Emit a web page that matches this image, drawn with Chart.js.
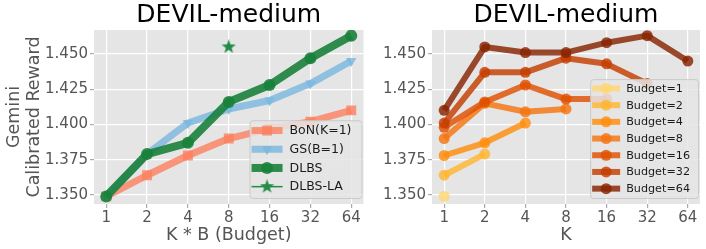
<!DOCTYPE html>
<html>
<head>
<meta charset="utf-8">
<script src="https://cdn.jsdelivr.net/npm/chart.js@4.4.1/dist/chart.umd.min.js"></script>
<style>
html, body { margin: 0; padding: 0; background: #fff; }
#wrap { position: relative; width: 706px; height: 249px; }
#leftBox { position: absolute; left: 0; top: 0; width: 372px; height: 249px; }
#rightBox { position: absolute; left: 372px; top: 0; width: 334px; height: 249px; }
</style>
</head>
<body>
<div id="wrap">
  <div id="leftBox"><canvas id="budgetChart" width="372" height="249"></canvas></div>
  <div id="rightBox"><canvas id="kChart" width="334" height="249"></canvas></div>
</div>
<script>
// x positions (log2 spaced) shared by both panels
const budgets = [1, 2, 4, 8, 16, 32, 64];
const yTicks = [1.350, 1.375, 1.400, 1.425, 1.450];

// left panel: reward vs total budget
const bonValues = [1.349, 1.364, 1.378, 1.390, 1.397, 1.402, 1.410];
const gsValues = [1.349, 1.379, 1.401, 1.411, 1.417, 1.429, 1.445];
const dlbsValues = [1.349, 1.379, 1.387, 1.416, 1.428, 1.447, 1.463];
const dlbsLaBudget = [8];
const dlbsLaValues = [1.455];

// right panel: reward vs K, one line per budget (K runs 1..budget)
const kValues = [1, 2, 4, 8, 16, 32, 64];
const budgetLabels = ['Budget=1', 'Budget=2', 'Budget=4', 'Budget=8', 'Budget=16', 'Budget=32', 'Budget=64'];
const budget1 = [1.349];
const budget2 = [1.364, 1.379];
const budget4 = [1.378, 1.387, 1.401];
const budget8 = [1.390, 1.415, 1.409, 1.411];
const budget16 = [1.398, 1.416, 1.428, 1.418, 1.418];
const budget32 = [1.401, 1.437, 1.437, 1.447, 1.443, 1.429];
const budget64 = [1.410, 1.455, 1.451, 1.451, 1.458, 1.463, 1.445];
const budgetSeries = [budget1, budget2, budget4, budget8, budget16, budget32, budget64];
const budgetColors = ['#FFD674', '#FFB632', '#FF8D0E', '#F47410', '#DF5000', '#C43D00', '#872300'];

Chart.defaults.font.family = "'DejaVu Sans', sans-serif";
Chart.defaults.color = '#555555';

// filled five point star used as the DLBS-LA marker
function makeStar(size, color) {
    const c = document.createElement('canvas');
    c.width = size; c.height = size;
    const g = c.getContext('2d');
    const cx = size / 2, cy = size / 2, outer = size / 2, inner = outer * 0.4;
    g.beginPath();
    for (let i = 0; i < 10; i++) {
        const r = i % 2 === 0 ? outer : inner;
        const a = -Math.PI / 2 + i * Math.PI / 5;
        g.lineTo(cx + r * Math.cos(a), cy + r * Math.sin(a));
    }
    g.closePath();
    g.fillStyle = color;
    g.fill();
    return c;
}
const starImg = makeStar(15, '#238B45');

// grey panel background like the ggplot style
const panelBg = {
    id: 'panelBg',
    beforeDraw(chart) {
        const a = chart.chartArea;
        chart.ctx.save();
        chart.ctx.fillStyle = '#E5E5E5';
        chart.ctx.fillRect(a.left, a.top, a.right - a.left, a.bottom - a.top);
        chart.ctx.restore();
    }
};

// legend drawn in the lower right corner of the plot area
const cornerLegend = {
    id: 'cornerLegend',
    afterDatasetsDraw(chart, args, opts) {
        const ctx = chart.ctx;
        const area = chart.chartArea;
        const items = chart.data.datasets;
        ctx.save();
        ctx.font = opts.fontSize + "px 'DejaVu Sans'";
        const textW = Math.max(...items.map(d => ctx.measureText(d.label).width));
        const w = opts.padLeft + opts.handleLen + opts.gap + textW + opts.padRight;
        const h = opts.padTop + items.length * opts.rowH + opts.padBottom;
        const x = area.right - opts.marginRight - w;
        const y = area.bottom - opts.marginBottom - h;

        ctx.beginPath();
        ctx.roundRect(x + 0.5, y + 0.5, w, h, 3);
        ctx.fillStyle = 'rgba(229,229,229,0.85)';
        ctx.fill();
        ctx.strokeStyle = 'rgba(200,200,200,0.9)';
        ctx.lineWidth = 1;
        ctx.stroke();

        items.forEach((d, i) => {
            const cy = y + opts.padTop + opts.rowH * (i + 0.5);
            const hx = x + opts.padLeft;
            ctx.beginPath();
            ctx.moveTo(hx, cy);
            ctx.lineTo(hx + opts.handleLen, cy);
            ctx.strokeStyle = d.borderColor;
            ctx.lineWidth = d.legendLineWidth || d.borderWidth;
            ctx.lineCap = 'butt';
            ctx.stroke();
            ctx.fillStyle = d.pointBackgroundColor;
            Chart.helpers.drawPoint(ctx, {
                pointStyle: d.pointStyle,
                radius: d.pointRadius,
                rotation: d.pointRotation || 0,
                borderWidth: 0
            }, hx + opts.handleLen / 2, cy);
            ctx.fillStyle = '#1a1a1a';
            ctx.textBaseline = 'middle';
            ctx.textAlign = 'left';
            ctx.fillText(d.label, hx + opts.handleLen + opts.gap, cy + 0.5);
        });
        ctx.restore();
    }
};

function xAxis(titleText) {
    return {
        type: 'logarithmic',
        min: Math.pow(2, -0.3),
        max: Math.pow(2, 6.3),
        afterBuildTicks: s => { s.ticks = budgets.map(v => ({ value: v })); },
        afterFit: s => { s.height = 45; },
        ticks: { callback: v => String(v), font: { size: 15 }, color: '#555555', padding: 1, maxRotation: 0, autoSkip: false },
        grid: { color: '#FFFFFF', lineWidth: 1.2, tickColor: '#AAAAAA', tickLength: 4 },
        border: { display: false },
        title: { display: true, text: titleText, font: { size: 17.5 }, color: '#555555', padding: { top: 0, bottom: 3 } }
    };
}

function yAxis(width, titleLines) {
    return {
        type: 'linear',
        min: 1.3436,
        max: 1.467,
        afterBuildTicks: s => { s.ticks = yTicks.map(v => ({ value: v })); },
        afterFit: s => { s.width = width; },
        ticks: { callback: v => v.toFixed(3), font: { size: 15 }, color: '#555555', padding: 2 },
        grid: { color: '#FFFFFF', lineWidth: 1.2, tickColor: '#AAAAAA', tickLength: 4 },
        border: { display: false },
        title: { display: !!titleLines, text: titleLines || '', font: { size: 17.5, lineHeight: 1.15 }, color: '#555555', padding: { top: 4, bottom: 0 } }
    };
}

const titleOpts = {
    display: true,
    text: 'DEVIL-medium',
    fullSize: false,
    color: '#000000',
    font: { size: 25, weight: 'normal', lineHeight: 1.2 },
    padding: 0
};

function toPoints(xs, ys) {
    return ys.map((v, i) => ({ x: xs[i], y: v }));
}

// ---- left panel
new Chart(document.getElementById('budgetChart').getContext('2d'), {
    type: 'line',
    data: {
        datasets: [
            {
                label: 'BoN(K=1)',
                data: toPoints(budgets, bonValues),
                borderColor: 'rgba(251,128,94,0.8)',
                backgroundColor: 'rgba(251,128,94,0.8)',
                pointBackgroundColor: 'rgba(251,128,94,0.8)',
                borderWidth: 7,
                pointStyle: 'rect',
                pointRadius: 7,
                pointBorderWidth: 0,
                order: 3
            },
            {
                label: 'GS(B=1)',
                data: toPoints(budgets, gsValues),
                borderColor: 'rgba(121,182,222,0.8)',
                backgroundColor: 'rgba(121,182,222,0.8)',
                pointBackgroundColor: 'rgba(121,182,222,0.8)',
                borderWidth: 7,
                pointStyle: 'triangle',
                pointRotation: 180,
                pointRadius: 6,
                pointBorderWidth: 0,
                order: 2
            },
            {
                label: 'DLBS',
                data: toPoints(budgets, dlbsValues),
                borderColor: 'rgba(26,129,59,0.9)',
                backgroundColor: 'rgba(26,129,59,0.9)',
                pointBackgroundColor: 'rgba(26,129,59,0.9)',
                borderWidth: 8,
                pointStyle: 'circle',
                pointRadius: 6,
                pointBorderWidth: 0,
                order: 1
            },
            {
                label: 'DLBS-LA',
                data: toPoints(dlbsLaBudget, dlbsLaValues),
                borderColor: '#238B45',
                backgroundColor: '#238B45',
                pointBackgroundColor: '#238B45',
                showLine: false,
                borderWidth: 1.5,
                legendLineWidth: 1.5,
                pointStyle: starImg,
                pointRadius: 7,
                order: 0
            }
        ]
    },
    options: {
        responsive: false,
        animation: false,
        layout: { padding: { left: 0, right: 8, top: 0, bottom: 0 } },
        elements: { line: { tension: 0, borderJoinStyle: 'round' } },
        scales: {
            x: xAxis('K * B (Budget)'),
            y: yAxis(94, ['Gemini', 'Calibrated Reward'])
        },
        plugins: {
            legend: { display: false },
            tooltip: { enabled: false },
            title: titleOpts,
            cornerLegend: { fontSize: 12.5, rowH: 18.7, padLeft: 2, handleLen: 31, gap: 7, padRight: 10, padTop: 1, padBottom: 2, marginRight: 2, marginBottom: 6 }
        }
    },
    plugins: [panelBg, cornerLegend]
});

// ---- right panel
new Chart(document.getElementById('kChart').getContext('2d'), {
    type: 'line',
    data: {
        datasets: budgetSeries.map((vals, i) => ({
            label: budgetLabels[i],
            data: toPoints(kValues, vals),
            borderColor: budgetColors[i] + 'D0',
            backgroundColor: budgetColors[i] + 'D0',
            pointBackgroundColor: budgetColors[i] + 'D0',
            borderWidth: 6,
            pointStyle: 'circle',
            pointRadius: 5.5,
            pointBorderWidth: 0,
            order: budgetSeries.length - i
        }))
    },
    options: {
        responsive: false,
        animation: false,
        layout: { padding: { left: 0, right: 6, top: 0, bottom: 0 } },
        elements: { line: { tension: 0, borderJoinStyle: 'round' } },
        scales: {
            x: xAxis('K'),
            y: yAxis(60, null)
        },
        plugins: {
            legend: { display: false },
            tooltip: { enabled: false },
            title: titleOpts,
            cornerLegend: { fontSize: 11.2, rowH: 16.7, padLeft: 2, handleLen: 28, gap: 6, padRight: 8, padTop: 1, padBottom: 1, marginRight: 2, marginBottom: 6 }
        }
    },
    plugins: [panelBg, cornerLegend]
});
</script>
</body>
</html>
